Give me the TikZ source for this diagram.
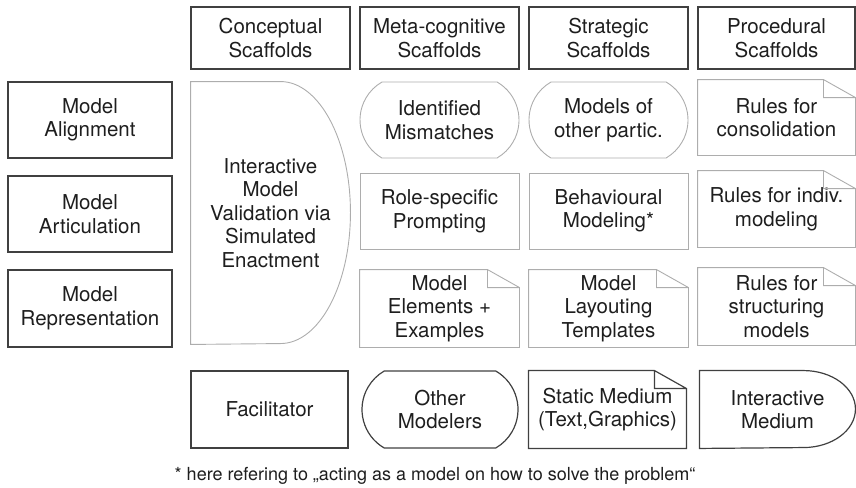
\documentclass[tikz,border=0pt]{standalone}
\usepackage{fontspec}
\setmainfont{TeX Gyre Heros}
\usetikzlibrary{shapes.misc}
\definecolor{darkline}{HTML}{404040}
\definecolor{lightline}{HTML}{ADADAD}
\definecolor{inktext}{HTML}{1E1E1E}
\tikzset{
  txt/.style={
    text=inktext, align=center, inner sep=0pt,
    font=\fontsize{20.5}{23.5}\selectfont
  },
  head/.style={txt, draw=darkline, line width=1.2pt,
    minimum width=159pt, minimum height=62pt},
  lane/.style={txt, draw=darkline, line width=1.2pt,
    minimum width=164pt, minimum height=76pt},
  cell/.style={txt, draw=lightline, line width=0.9pt,
    minimum width=159pt, minimum height=76pt},
  stadium/.style={cell, rounded rectangle,
    rounded rectangle arc length=120},
  note/.style={cell, draw=none}
}

\begin{document}
\begin{tikzpicture}[x=1pt,y=-1pt]
  \useasboundingbox (0,0) rectangle (856,487);
  % column heads
  \node[head] (hcon) at (270.5,38) {Conceptual\\Scaffolds};
  \node[head] (hmet) at (439.5,38) {Meta-cognitive\\Scaffolds};
  \node[head] (hstr) at (608.5,38) {Strategic\\Scaffolds};
  \node[head,minimum width=157pt] (hpro) at (776.5,38) {Procedural\\Scaffolds};
  % row heads
  \node[lane] (align) at (90,120) {Model\\Alignment};
  \node[lane] (artic) at (90,214) {Model\\Articulation};
  \node[lane,minimum height=77pt] (repr) at (90,308.5) {Model\\Representation};
  % conceptual column
  \node[cell,draw=none,minimum height=262pt] (ivm) at (270.5,213)
    {Interactive\\Model\\Validation via\\Simulated\\Enactment};
  % first row
  \node[stadium] (mism) at (439.5,120) {Identified\\Mismatches};
  \node[stadium] (mopp) at (608.5,120) {Models of\\other partic.};
  \node[note,minimum width=157pt,minimum height=75pt] (rcon) at (776.5,117.5) {Rules for\\consolidation};
  % second row
  \node[cell] (role) at (439.5,211) {Role-specific\\Prompting};
  \node[cell] (behv) at (608.5,211) {Behavioural\\Modeling*};
  \node[note,minimum width=157pt] (rind) at (776.5,209) {Rules for indiv.\\modeling};
  % third row
  \node[note,minimum height=77pt] (mele) at (439.5,308.5) {Model\\Elements +\\Examples};
  \node[note,minimum height=77pt] (mlay) at (608.5,308.5) {Model\\Layouting\\Templates};
  \node[note,minimum width=157pt,minimum height=77pt] (rstr) at (776.5,306.5) {Rules for\\structuring\\models};
  % media
  \node[lane,minimum width=157pt,minimum height=77pt] (faci) at (269.5,409.5) {Facilitator};
  \node[stadium,draw=darkline,line width=1.2pt,minimum width=156pt,minimum height=77pt] (omod) at (440,409.5) {Other\\Modelers};
  \node[note,minimum width=157pt,minimum height=77pt] (smed) at (607.5,409.5) {Static Medium\\(Text,Graphics)};
  \node[note,minimum width=155pt,minimum height=77pt] (imed) at (777.5,409.5) {Interactive\\Medium};
  % dog-eared outlines
  \foreach \n in {rcon,rind,mele,mlay,rstr}
    \draw[lightline,line width=0.9pt] (\n.north west) -- ([xshift=-32pt]\n.north east)
      -- ([yshift=-18pt]\n.north east) -- (\n.south east) -- (\n.south west) -- cycle
      ([xshift=-32pt]\n.north east) |- ([yshift=-18pt]\n.north east);
  \draw[darkline,line width=1.2pt] (smed.north west) -- ([xshift=-32pt]smed.north east)
    -- ([yshift=-18pt]smed.north east) -- (smed.south east) -- (smed.south west) -- cycle
    ([xshift=-32pt]smed.north east) |- ([yshift=-18pt]smed.north east);
  % half-round outlines
  \draw[lightline,line width=0.9pt] (ivm.north west) -- ([xshift=-70pt]ivm.north east)
    arc[start angle=90,end angle=-90,x radius=70pt,y radius=131pt] -- (ivm.south west) -- cycle;
  \draw[darkline,line width=1.2pt] (imed.north west) -- ([xshift=-52pt]imed.north east)
    arc[start angle=90,end angle=-90,x radius=52pt,y radius=38.5pt] -- (imed.south west) -- cycle;
  % footnote
  \node[txt,font=\fontsize{18}{21}\selectfont] (foot) at (435,476)
    {* here refering to „acting as a model on how to solve the problem“};
\end{tikzpicture}
\end{document}
